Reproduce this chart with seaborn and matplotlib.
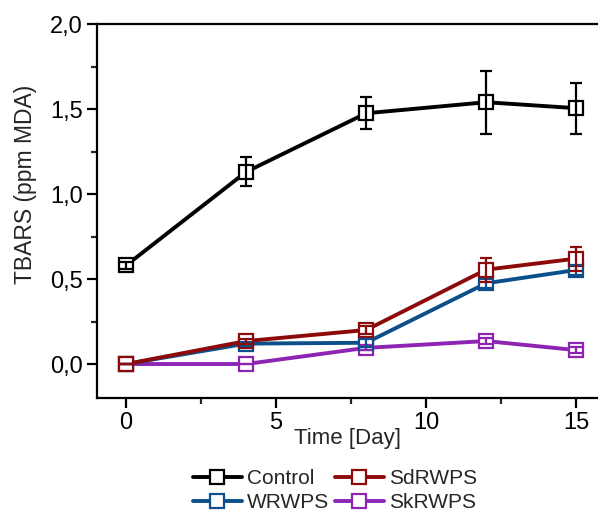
import matplotlib
matplotlib.use("Agg")
import matplotlib.pyplot as plt
from matplotlib.lines import Line2D
from matplotlib.ticker import MultipleLocator, FuncFormatter
import seaborn as sns
import pandas as pd

sns.set_theme(style="ticks")
plt.rcParams["font.family"] = ["Liberation Sans", "DejaVu Sans"]

days = [0, 4, 8, 12, 15]
series_names = ["Control", "SdRWPS", "WRWPS", "SkRWPS"]
control = [0.58, 1.13, 1.475, 1.54, 1.505]
control_err = [0.02, 0.085, 0.095, 0.185, 0.15]
sdrwps = [0.0, 0.135, 0.20, 0.555, 0.62]
sdrwps_err = [0.0, 0.015, 0.025, 0.07, 0.07]
wrwps = [0.0, 0.12, 0.125, 0.475, 0.553]
wrwps_err = [0.0, 0.012, 0.025, 0.025, 0.03]
skrwps = [0.0, 0.0, 0.095, 0.135, 0.082]
skrwps_err = [0.0, 0.0, 0.015, 0.02, 0.02]

colors = {"Control": "#000000", "SdRWPS": "#8c0a0a",
          "WRWPS": "#0b4f8c", "SkRWPS": "#8e24b3"}

values = {"Control": control, "SdRWPS": sdrwps, "WRWPS": wrwps, "SkRWPS": skrwps}
errors = {"Control": control_err, "SdRWPS": sdrwps_err,
          "WRWPS": wrwps_err, "SkRWPS": skrwps_err}

df = pd.concat([
    pd.DataFrame({"Day": days, "TBARS": values[n], "err": errors[n], "Sample": n})
    for n in series_names
], ignore_index=True)

fig = plt.figure(figsize=(5.98, 5.11), dpi=100)
ax = fig.add_axes([0.1622, 0.2211, 0.8378, 0.7319])

# draw lines in reverse so Control sits on top
draw_order = ["SkRWPS", "WRWPS", "SdRWPS", "Control"]
for n in draw_order:
    sub = df[df["Sample"] == n]
    sns.lineplot(data=sub, x="Day", y="TBARS", ax=ax, color=colors[n],
                 linewidth=2.8, marker="s", markersize=9.5,
                 markerfacecolor="white", markeredgecolor=colors[n],
                 markeredgewidth=1.6, legend=False, zorder=3)
    ax.errorbar(sub["Day"], sub["TBARS"], yerr=sub["err"], fmt="none",
                ecolor=colors[n], elinewidth=1.6, capsize=4, capthick=1.6,
                zorder=4)

ax.set_xlim(-0.97, 15.73)
ax.set_ylim(-0.2, 2.0)
ax.xaxis.set_major_locator(MultipleLocator(5))
ax.xaxis.set_minor_locator(MultipleLocator(2.5))
ax.yaxis.set_major_locator(MultipleLocator(0.5))
ax.yaxis.set_minor_locator(MultipleLocator(0.25))
ax.yaxis.set_major_formatter(FuncFormatter(lambda v, p: f"{v:.1f}".replace(".", ",")))

for side in ["left", "bottom", "top"]:
    ax.spines[side].set_visible(True)
    ax.spines[side].set_linewidth(1.6)
    ax.spines[side].set_color("black")
ax.spines["right"].set_visible(False)

ax.tick_params(axis="both", which="major", direction="out", length=7, width=1.6,
               labelsize=17, colors="black", pad=3)
ax.tick_params(axis="both", which="minor", direction="out", length=4, width=1.6)
ax.tick_params(top=False, right=False, which="both")

ax.set_xlabel("Time [Day]", fontsize=16)
ax.set_ylabel("TBARS (ppm MDA)", fontsize=16.5)
ax.xaxis.set_label_coords(0.5, -0.08)
ax.yaxis.set_label_coords(-0.12, 0.572)

legend_order = ["Control", "WRWPS", "SdRWPS", "SkRWPS"]
handles = [Line2D([0], [0], color=colors[n], linewidth=2.8, marker="s",
                  markersize=10, markerfacecolor="white",
                  markeredgecolor=colors[n], markeredgewidth=1.6)
           for n in legend_order]
fig.legend(handles, legend_order, loc="upper left", ncol=2,
           bbox_to_anchor=(193 / 598, 0.082), frameon=False, fontsize=15,
           borderpad=0, borderaxespad=0,
           handlelength=2.35, handletextpad=0.25, columnspacing=0.25,
           labelspacing=0.25)

fig.savefig("out.png", dpi=100)
